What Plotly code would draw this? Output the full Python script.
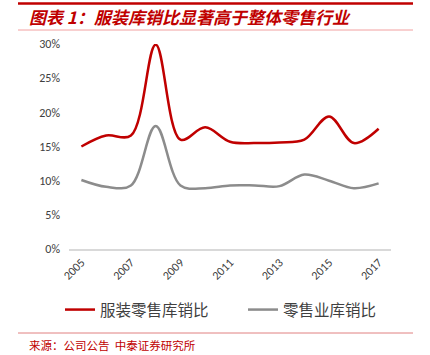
import plotly.graph_objects as go

years = [2005, 2006, 2007, 2008, 2009, 2010, 2011, 2012, 2013, 2014, 2015, 2016, 2017]
apparel_ratio = [15.0, 16.6, 16.6, 29.9, 16.0, 17.8, 15.7, 15.5, 15.6, 16.0, 19.4, 15.5, 17.6]
retail_ratio = [10.1, 9.1, 9.3, 18.0, 9.3, 8.9, 9.3, 9.3, 9.2, 10.9, 10.0, 8.9, 9.6]
series_names = ["服装零售库销比", "零售业库销比"]
y_ticks = [0, 5, 10, 15, 20, 25, 30]
x_ticks = [2005, 2007, 2009, 2011, 2013, 2015, 2017]

title_text = "图表 1：服装库销比显著高于整体零售行业"
source_text = "来源：公司公告  中泰证券研究所"

L, R, T, B = 69, 39, 44, 106
W, H = 430, 355
pw, ph = W - L - R, H - T - B

def px(x):
    return (x - L) / pw

def py(y):
    return (H - B - y) / ph

fig = go.Figure()
fig.add_trace(go.Scatter(x=years, y=apparel_ratio, name=series_names[0], mode="lines",
                         line=dict(color="#C00000", width=2.5, shape="spline", smoothing=1.0)))
fig.add_trace(go.Scatter(x=years, y=retail_ratio, name=series_names[1], mode="lines",
                         line=dict(color="#8C8C8C", width=2.5, shape="spline", smoothing=1.0)))

fig.update_layout(
    width=W, height=H,
    margin=dict(l=L, r=R, t=T, b=B, autoexpand=False),
    paper_bgcolor="white", plot_bgcolor="white",
    font=dict(family="Noto Sans CJK SC, Noto Sans", color="#404040"),
    showlegend=True,
    legend=dict(orientation="h", x=px(60), y=py(310), xanchor="left", yanchor="middle",
                font=dict(size=15.5, color="#404040", family="Noto Sans CJK SC"),
                entrywidth=138, entrywidthmode="pixels", bgcolor="rgba(0,0,0,0)",
                itemwidth=30),
)
fig.update_xaxes(range=[2004.5, 2017.5], tickmode="array", tickvals=x_ticks,
                 ticktext=[str(v) for v in x_ticks], tickangle=-45,
                 showline=True, linecolor="#D9D9D9", linewidth=1.5, showgrid=False,
                 zeroline=False, ticks="", tickfont=dict(size=12, color="#404040",
                 family="Carlito, Calibri, Liberation Sans, sans-serif"))
fig.update_yaxes(range=[0, 30], tickmode="array", tickvals=y_ticks,
                 ticktext=[f"{v}%" for v in y_ticks], showline=False, showgrid=False,
                 zeroline=False, ticks="", ticklabelstandoff=8,
                 tickfont=dict(size=12, color="#404040",
                 family="Carlito, Calibri, Liberation Sans, sans-serif"))

shapes = [
    dict(type="line", xref="paper", yref="paper", x0=px(18), x1=px(413), y0=py(3.5), y1=py(3.5),
         line=dict(color="#C00000", width=2.5)),
    dict(type="line", xref="paper", yref="paper", x0=px(18), x1=px(413), y0=py(30), y1=py(30),
         line=dict(color="#F2A0A0", width=1)),
    dict(type="line", xref="paper", yref="paper", x0=px(18), x1=px(413), y0=py(333), y1=py(333),
         line=dict(color="#E08080", width=1)),
]
fig.update_layout(shapes=shapes)
fig.add_annotation(text=title_text, xref="paper", yref="paper", x=px(27), y=py(16.5),
                   xanchor="left", yanchor="middle", showarrow=False,
                   font=dict(size=17, color="#C00000", family="Noto Sans CJK SC",
                             style="italic", weight="bold"))
fig.add_annotation(text=source_text, xref="paper", yref="paper", x=px(27), y=py(345),
                   xanchor="left", yanchor="middle", showarrow=False,
                   font=dict(size=11.5, color="#C00000", family="Noto Sans CJK SC"))

fig.write_html("out.html", config={"displayModeBar": False},
               post_script="document.body.style.margin='0px';document.body.style.padding='0px';")
